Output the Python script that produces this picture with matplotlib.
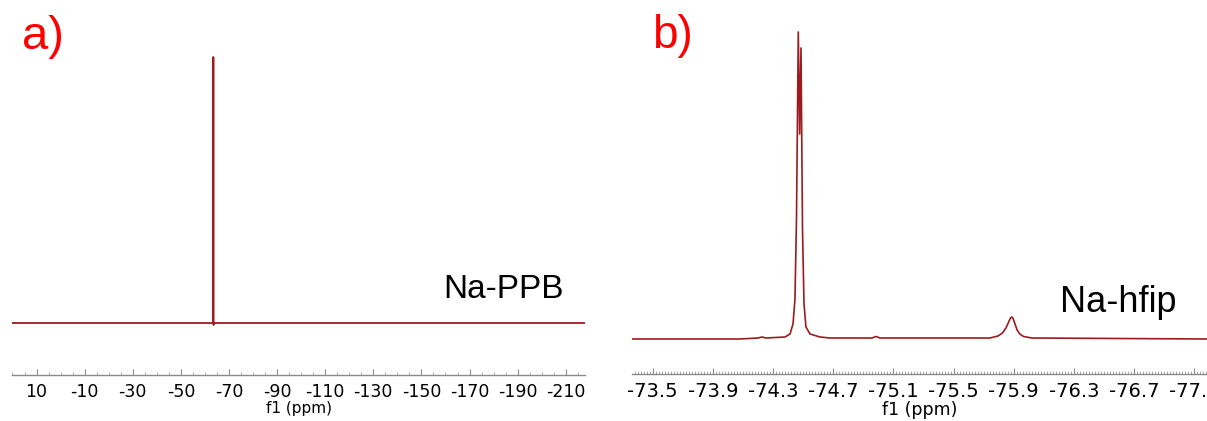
import matplotlib
matplotlib.use("Agg")
import matplotlib.pyplot as plt
from matplotlib.ticker import MultipleLocator, FixedLocator

# ---------------- data ----------------
# panel a: 19F spectrum of Na-PPB (ppm, intensity)
a_ppm = [20.2, -63.2, -63.4, -63.5, -63.6, -63.7, -218.0]
a_int = [0.0, 0.0, 0.0, 266.0, -2.0, 0.0, 0.0]
a_ticks = [10, -10, -30, -50, -70, -90, -110, -130, -150, -170, -190, -210]

# panel b: 19F spectrum of Na-hfip (ppm, intensity)
b_ppm = [-73.363, -74.081, -74.200, -74.227, -74.253, -74.380, -74.413, -74.433,
         -74.446, -74.456, -74.468, -74.477, -74.486, -74.496, -74.506, -74.519,
         -74.546, -74.612, -74.679, -74.958, -74.985, -75.011, -75.742, -75.795,
         -75.825, -75.848, -75.866, -75.878, -75.886, -75.894, -75.906, -75.922,
         -75.940, -75.965, -76.021, -77.184]
b_int = [0.0, 0.0, 1.0, 2.0, 1.0, 2.0, 5.0, 15.0,
         40.0, 120.0, 307.0, 205.0, 291.0, 110.0, 35.0, 12.0,
         5.0, 2.0, 1.0, 1.0, 2.5, 1.0, 1.0, 3.0,
         6.0, 11.0, 17.0, 21.0, 22.0, 21.0, 16.0, 9.0,
         5.0, 2.5, 1.0, 0.0]
b_ticks = [-73.5, -73.9, -74.3, -74.7, -75.1, -75.5, -75.9, -76.3, -76.7, -77.1]
b_ticklabels = ["-73.5", "-73.9", "-74.3", "-74.7", "-75.1", "-75.5", "-75.9", "-76.3", "-76.7", "-77.1"]

line_color = "#9B1B1E"
W, H = 1207, 421

fig = plt.figure(figsize=(W / 100, H / 100), dpi=100)


def rect(left, top, right, bottom):
    return [left / W, (H - bottom) / H, (right - left) / W, (bottom - top) / H]


def style(ax, fs):
    for s in ["top", "left", "right"]:
        ax.spines[s].set_visible(False)
    ax.spines["bottom"].set_color("#8a8a8a")
    ax.spines["bottom"].set_linewidth(1.0)
    ax.set_yticks([])
    ax.tick_params(axis="x", which="major", direction="in", length=4, width=0.8,
                   color="#8a8a8a", labelsize=fs, pad=6)
    ax.tick_params(axis="x", which="minor", direction="in", length=2.5, width=0.6,
                   color="#a0a0a0")


# panel a
axa = fig.add_axes(rect(12, 20, 585, 375))
axa.plot(a_ppm, a_int, color=line_color, lw=1.3)
axa.set_xlim(20.2, -218.0)
axa.set_ylim(-52, 303)
axa.xaxis.set_major_locator(FixedLocator(a_ticks))
axa.xaxis.set_minor_locator(MultipleLocator(5))
axa.set_xticklabels([str(t) for t in a_ticks])
style(axa, 12.5)
axa.set_xlabel("f1 (ppm)", fontsize=11, labelpad=0)

# panel b
axb = fig.add_axes(rect(632, 20, 1207, 374))
axb.plot(b_ppm, b_int, color=line_color, lw=1.2)
axb.set_xlim(-73.363, -77.184)
axb.set_ylim(-35, 319)
axb.xaxis.set_major_locator(FixedLocator(b_ticks))
axb.xaxis.set_minor_locator(MultipleLocator(0.02))
axb.set_xticklabels(b_ticklabels)
style(axb, 14)
axb.set_xlabel("f1 (ppm)", fontsize=12.5, labelpad=0)

# panel labels
fig.text(22 / W, (H - 49) / H, "a)", color="#ff0000", fontsize=34,
         family="Liberation Sans", va="baseline", ha="left")
fig.text(652 / W, (H - 48) / H, "b)", color="#ff0000", fontsize=33,
         family="Liberation Sans", va="baseline", ha="left")
fig.text(443 / W, (H - 298) / H, "Na-PPB", color="black", fontsize=24,
         family="Liberation Sans", va="baseline", ha="left")
fig.text(1060 / W, (H - 312) / H, "Na-hfip", color="black", fontsize=26,
         family="Liberation Sans", va="baseline", ha="left")

fig.savefig("out.png", dpi=100)
